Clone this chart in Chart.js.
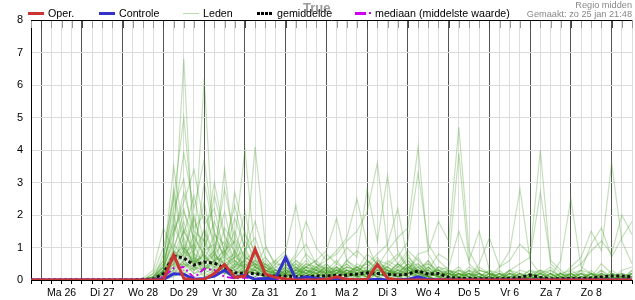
<!DOCTYPE html>
<html>
<head>
<meta charset="utf-8">
<script src="https://cdn.jsdelivr.net/npm/chart.js@4/dist/chart.umd.min.js"></script>
<style>
  html,body{margin:0;padding:0;background:#fff;}
  #wrap{position:relative;width:635px;height:300px;overflow:hidden;font-family:"Liberation Sans",Arial,sans-serif;}
  #c{position:absolute;left:0;top:0;}
  .lg{position:absolute;font-size:10.7px;line-height:13px;color:#000;white-space:nowrap;}
  .sw{position:absolute;}
  .hdr{position:absolute;right:3px;font-size:9.2px;line-height:10px;color:#888;white-space:nowrap;}
  #wm{position:absolute;left:303px;top:0px;font-size:13px;font-weight:bold;color:#9a9a9a;line-height:15px;}
</style>
</head>
<body>
<div id="wrap">
  <canvas id="c" width="635" height="300"></canvas>
  <div id="wm">True</div>
  <div class="sw" style="left:28px;top:12px;width:16px;height:3px;background:#cc3333"></div>
  <div class="lg" style="left:48px;top:7px">Oper.</div>
  <div class="sw" style="left:99px;top:12px;width:16px;height:3px;background:#3333cc"></div>
  <div class="lg" style="left:119px;top:7px">Controle</div>
  <div class="sw" style="left:183px;top:13px;width:16px;height:1px;background:#b8dca8"></div>
  <div class="lg" style="left:203px;top:7px">Leden</div>
  <div class="sw" style="left:257px;top:12px;width:15px;height:3px;background:repeating-linear-gradient(90deg,#000 0 3px,transparent 3px 4px)"></div>
  <div class="lg" style="left:277px;top:7px">gemiddelde</div>
  <div class="sw" style="left:355px;top:12px;width:11px;height:3px;background:#cc00ee"></div>
  <div class="sw" style="left:369px;top:12px;width:2px;height:2px;background:#cc00ee"></div>
  <div class="lg" style="left:375px;top:7px">mediaan (middelste waarde)</div>
  <div class="hdr" style="top:0px">Regio midden</div>
  <div class="hdr" style="top:9px">Gemaakt: zo 25 jan 21:48</div>
</div>
<script>
// Day labels shown at noon of each day (every 4th 6-hour slot)
const dayLabels = ['Ma 26','Di 27','Wo 28','Do 29','Vr 30','Za 31','Zo 1','Ma 2','Di 3','Wo 4','Do 5','Vr 6','Za 7','Zo 8'];

// Operational run (6-hourly precipitation, mm)
const oper = [0,0,0,0,0,0,0,0,0,0,0, 0,0,0,0.77,0.05,0, 0.02,0.2,0.48,0.08,0.12,0.95,0.18,0.08, 0.03,0,0,0,0.02,0.1,0.02,0, 0.02,0.48,0.05,0,0,0,0,0, 0,0,0,0,0,0,0,0, 0,0,0,0,0,0,0,0,0,0,0];
// Control run
const controle = [0,0,0,0,0,0,0,0,0,0,0, 0,0,0.02,0.19,0.18,0.02, 0.05,0.12,0.3,0.08,0.15,0.02,0.05,0.05, 0.7,0.02,0.1,0.05,0.02,0.03,0.02,0, 0,0.02,0,0,0.02,0.1,0.02,0, 0,0,0,0,0,0,0,0, 0,0,0,0,0,0,0,0,0,0,0];
// Ensemble mean
const gemiddelde = [0,0,0,0,0,0,0,0,0,0,0, 0.02,0.03,0.2,0.74,0.68,0.46, 0.55,0.52,0.37,0.22,0.2,0.2,0.15,0.12, 0.12,0.1,0.1,0.12,0.12,0.15,0.15,0.18, 0.22,0.2,0.18,0.15,0.18,0.28,0.18,0.2, 0.08,0.05,0.05,0.04,0.04,0.04,0.05,0.08, 0.15,0.08,0.04,0.04,0.05,0.05,0.06,0.1,0.12,0.12,0.1];
// Ensemble median
const mediaan = [0,0,0,0,0,0,0,0,0,0,0, 0,0.02,0.1,0.36,0.4,0.06, 0.35,0.3,0.1,0.05,0.08,0.05,0.05,0.03, 0.02,0.02,0.02,0.02,0.02,0.02,0.02,0.02, 0.02,0.02,0.02,0.02,0.02,0.03,0.02,0.02, 0.01,0.01,0.01,0.01,0.01,0.01,0.01,0.01, 0.01,0.01,0.01,0.01,0.01,0.01,0.01,0.01,0.01,0.01,0.01];
// Ensemble members
const leden = [
 [0,0,0,0,0,0,0,0,0,0,0, 0,0.1,0.4,1.2,6.8,0.6, 0.3,0.8,0.4,0.2,0.3,0.5,0.1,0.2, 0.1,0.3,0.2,0,0.1,0.4,0.2,0.1, 0.3,0.1,0,0.2,0.5,0.3,0.1,0, 0,0.2,0,0.1,0,0,0.3,0.1, 0,0,0.2,0,0,0.1,0,0,0.3,0.1,0],
 [0,0,0,0,0,0,0,0,0,0,0, 0,0,0.2,0.8,1.5,0.9, 6.2,0.7,0.5,0.3,0.2,0.6,0.4,0.1, 0.2,0.5,0.3,0.1,0,0.2,0.6,0.3, 0.1,0.4,0.2,0,0.3,0.2,0.6,0.1, 0,0,0.2,0.1,0,0.2,0,0, 0.1,0.3,0,0,0.2,0.1,0,0.2,0,0.3,0.4],
 [0,0,0,0,0,0,0,0,0,0,0, 0,0.1,0.6,2.8,1.2,0.4, 1.0,1.8,0.9,1.2,4.0,0.8,0.3,0.2, 0.5,0.2,0.1,0.3,0.2,0,0.1,0.4, 0.2,0.1,0.3,0.1,0,0.2,0.4,0.1, 0.2,0,0,0.1,0.3,0,0,0.1, 0,0.2,0,0.1,0,0,0.1,0.5,0.2,0,0.1],
 [0,0,0,0,0,0,0,0,0,0,0, 0,0,0.3,1.5,2.2,0.8, 0.6,0.9,2.1,0.7,0.5,4.1,1.1,0.4, 0.3,0.6,0.4,0.2,0.1,0.3,0.2,0, 0.1,0.5,0.2,0.3,0.1,0,0.2,0.1, 0,0.1,0.4,0.2,0,0,0.1,0, 0.2,0,0,0,0.1,0.3,0.2,0,0,0.1,0.2],
 [0,0,0,0,0,0,0,0,0,0,0, 0,0.2,1.0,2.5,5.0,1.6, 2.0,1.2,0.8,1.5,0.6,0.9,0.4,0.3, 0.2,0.1,0.4,0.6,0.3,0.1,0,0.2, 0.3,0.2,0.1,0.4,0.8,0.2,0.1,0, 0.1,0,0.2,0,0,0.1,0.3,0.2, 0,0,0.1,0.2,0,0,0.2,0.1,0,0,0.2],
 [0,0,0,0,0,0,0,0,0,0,0, 0,0,0.4,1.8,3.9,2.2, 3.7,1.4,1.1,0.5,1.2,0.7,0.2,0.5, 0.4,0.2,0.1,0,0.2,0.5,0.3,0.2, 0.6,0.3,0.2,0.1,0.2,0.5,0.2,0.3, 0.2,0.1,0,0,0.2,0.1,0,0, 0.1,0.2,0,0,0.3,0.1,0,0,0.1,0.2,0],
 [0,0,0,0,0,0,0,0,0,0,0, 0.05,0.3,1.6,0.9,2.1,1.3, 0.8,2.6,1.3,0.9,0.4,0.3,0.6,0.2, 0.1,0.3,0.8,0.5,0.2,0.1,0.3,0.1, 0,0.2,0.4,0.2,0.1,0.3,0.1,0, 0,0.2,0.1,0,0,0,0.2,0.1, 0.3,0.1,0,0,0,0.2,0.1,0,0.2,0.1,0],
 [0,0,0,0,0,0,0,0,0,0,0, 0,0,0.2,0.7,1.1,0.5, 1.3,0.6,0.9,0.4,0.8,0.3,0.2,0.6, 0.9,2.3,0.7,0.3,0.5,0.2,0.4,0.1, 0.2,0.6,0.3,0.1,0.2,0.1,0,0.1, 0.3,0.1,0,0.2,0,0,0,0.1, 0,0.1,0.3,0.1,0,0,0,0.2,0.1,0,0.3],
 [0,0,0,0,0,0,0,0,0,0,0, 0,0.1,0.3,0.9,0.6,1.4, 0.7,0.5,1.6,1.1,0.3,0.5,0.3,0.2, 0.4,0.8,1.8,1.0,0.6,0.9,1.3,2.5, 1.1,0.4,0.3,0.2,0.5,0.2,0.1,0, 0.1,0.3,0.1,0,0.2,0,0.1,0, 0,0,0.2,0.1,0,0.3,0,0,0.1,0,0.2],
 [0,0,0,0,0,0,0,0,0,0,0, 0,0,0.1,0.5,0.8,0.3, 0.9,1.1,0.4,0.2,0.7,0.5,0.2,0.1, 0.3,0.2,0.5,0.4,0.6,0.8,1.2,1.5, 2.1,3.6,1.0,0.5,0.3,0.7,0.2,0.1, 0,0.2,0,0.1,0.3,0,0,0, 0.2,0,0,0,0.1,0,0.2,0,0,0.1,0],
 [0,0,0,0,0,0,0,0,0,0,0, 0,0,0.2,0.4,1.6,0.7, 0.5,0.8,1.2,0.6,0.3,0.2,0.5,0.3, 0.2,0.4,0.1,0.3,0.8,0.5,1.0,0.7, 2.8,1.2,3.2,0.9,0.4,0.3,0.6,0.2, 0.1,0,0.3,0.1,0,0.2,0,0, 0,0.1,0,0.2,0,0,0.1,0.3,0,0,0.1],
 [0,0,0,0,0,0,0,0,0,0,0, 0,0,0.1,0.6,0.9,0.4, 0.3,0.6,0.7,1.2,0.5,0.3,0.1,0.2, 0.1,0.3,0.4,0.6,0.9,1.9,0.6,0.4, 0.5,0.8,1.1,2.2,0.6,0.3,0.2,0.1, 0.2,0.1,0,0,0.1,0,0.2,0, 0.1,0,0,0.1,0.2,0,0,0.1,0,0.2,0.1],
 [0,0,0,0,0,0,0,0,0,0,0, 0,0,0.3,0.8,1.0,0.6, 0.4,0.3,0.9,0.5,0.2,0.4,0.3,0.1, 0.2,0.1,0.3,0.2,0.4,0.3,0.5,0.2, 0.6,0.4,0.9,1.3,1.6,4.1,0.8,0.3, 0.2,0.4,0.1,0,0.1,0,0,0.2, 0,0.1,0,0,0,0.2,0.1,0,0,0,0.3],
 [0,0,0,0,0,0,0,0,0,0,0, 0,0.1,0.4,1.1,0.7,0.9, 1.5,0.7,0.6,0.8,0.3,0.2,0.4,0.2, 0.3,0.5,0.2,0.1,0.3,0.6,0.2,0.3, 0.8,0.5,0.4,0.7,1.2,3.3,1.1,0.6, 0.3,0.1,0,0.2,0,0.1,0,0, 0.1,0,0.2,0,0,0.1,0,0,0.2,0.1,0],
 [0,0,0,0,0,0,0,0,0,0,0, 0,0,0.2,0.5,1.3,0.6, 0.7,0.4,0.8,0.3,0.5,0.2,0.1,0.3, 0.1,0.2,0.4,0.1,0.2,0.3,0.1,0.5, 0.3,0.2,0.6,0.4,0.3,0.8,0.9,1.8, 1.2,4.7,0.9,0.3,0.2,0.1,0,0.2, 0,0.1,0,0.1,0,0,0.2,0,0,0.1,0],
 [0,0,0,0,0,0,0,0,0,0,0, 0,0,0.1,0.9,0.5,0.3, 0.6,0.2,0.4,0.7,0.9,0.4,0.2,0.1, 0.3,0.1,0.2,0.4,0.1,0.2,0.3,0.1, 0.4,0.7,0.2,0.5,0.9,0.6,0.3,0.8, 0.6,3.9,0.5,0.2,0.1,0,0.3,0, 0.1,0,0.1,0,0.2,0,0,0.1,0,0,0.2],
 [0,0,0,0,0,0,0,0,0,0,0, 0,0,0.2,0.3,0.8,1.1, 0.4,0.6,0.3,0.9,0.2,0.3,0.5,0.2, 0.1,0.4,0.2,0.5,0.3,0.1,0.2,0.4, 0.2,0.6,0.5,0.3,0.7,0.4,0.5,0.3, 0.4,1.5,0.6,1.5,0.3,0.2,0.1,0, 0.2,0.1,0,0,0.1,0,0.3,0,0.1,0,0],
 [0,0,0,0,0,0,0,0,0,0,0, 0,0,0.1,0.6,0.4,0.8, 0.3,0.5,0.2,0.4,0.6,0.2,0.1,0.3, 0.2,0.1,0.3,0.2,0.4,0.1,0.3,0.2, 0.1,0.3,0.2,0.5,0.2,0.3,0.1,0.4, 0.2,0.3,0.1,0.5,1.3,0.4,0.9,2.8, 0.6,0.2,0.1,0,0,0.1,0,0.2,0,0,0.1],
 [0,0,0,0,0,0,0,0,0,0,0, 0,0,0.2,0.4,0.9,0.5, 0.8,0.4,0.3,0.2,0.4,0.6,0.2,0.1, 0.2,0.3,0.1,0.4,0.2,0.3,0.1,0.2, 0.3,0.1,0.2,0.4,0.6,0.2,0.3,0.1, 0.2,0.1,0.3,0.2,0.1,0.4,0.6,1.1, 0.8,4.0,0.5,0.2,0.1,0,0.2,0,0.1,0,0],
 [0,0,0,0,0,0,0,0,0,0,0, 0,0,0.3,0.7,0.4,0.6, 0.5,0.9,0.2,0.3,0.6,0.4,0.2,0.1, 0.4,0.2,0.3,0.1,0.5,0.2,0.4,0.3, 0.2,0.4,0.3,0.1,0.4,0.5,0.2,0.3, 0.1,0.2,0,0.3,0.2,0.1,0.3,0.5, 0.7,2.7,0.6,0.3,0.1,0.2,0,0.1,0,0.1,0],
 [0,0,0,0,0,0,0,0,0,0,0, 0,0,0.1,0.3,0.6,0.2, 0.4,0.3,0.5,0.2,0.3,0.1,0.3,0.2, 0.1,0.2,0.4,0.3,0.1,0.2,0.3,0.1, 0.2,0.3,0.1,0.2,0.3,0.1,0.4,0.2, 0.3,0.1,0.2,0,0.1,0.2,0,0.1, 0.2,0.3,0.1,0.6,2.5,0.4,0.2,0.1,0,0.2,0.1],
 [0,0,0,0,0,0,0,0,0,0,0, 0,0,0.2,0.5,0.3,0.7, 0.2,0.4,0.6,0.3,0.1,0.4,0.2,0.3, 0.2,0.1,0.2,0.3,0.2,0.1,0.2,0.4, 0.1,0.2,0.3,0.2,0.4,0.1,0.2,0.3, 0.1,0.2,0.1,0.2,0,0.1,0.2,0, 0.1,0.2,0.3,0.1,0.4,0.7,1.5,0.9,3.6,1.2,0.5],
 [0,0,0,0,0,0,0,0,0,0,0, 0,0,0.1,0.2,0.5,0.4, 0.3,0.2,0.4,0.6,0.2,0.3,0.1,0.1, 0.3,0.2,0.1,0.2,0.3,0.4,0.1,0.2, 0.3,0.2,0.1,0.3,0.2,0.4,0.1,0.2, 0.2,0.1,0.3,0,0.1,0.2,0.1,0.3, 0.2,0.1,0,0.2,0.3,0.5,0.9,1.2,0.8,2.0,1.4],
 [0,0,0,0,0,0,0,0,0,0,0, 0,0,0.3,0.6,1.0,0.5, 0.8,0.3,0.2,0.5,0.4,0.2,0.3,0.1, 0.2,0.3,0.2,0.1,0.2,0.1,0.3,0.2, 0.1,0.2,0.4,0.1,0.3,0.2,0.1,0.4, 0.3,0.2,0.1,0.3,0.2,0,0.2,0.1, 0.3,0.2,0.4,0.1,0.2,0.3,1.1,1.6,0.7,1.3,1.8],
 [0,0,0,0,0,0,0,0,0,0,0, 0,0.1,0.5,3.5,1.4,2.6, 1.1,3.0,1.4,0.6,0.4,0.8,0.3,0.2, 0.2,0.4,0.1,0.2,0.3,0.1,0.2,0.1, 0.2,0.4,0.1,0,0.2,0.3,0.1,0, 0.1,0,0.2,0.1,0,0,0.1,0, 0,0.1,0,0,0.2,0,0,0.1,0,0,0.1],
 [0,0,0,0,0,0,0,0,0,0,0, 0,0,0.8,2.2,3.1,1.0, 2.4,0.9,2.8,1.3,0.7,0.5,0.4,0.6, 0.3,0.2,0.5,0.3,0.1,0.2,0.4,0.3, 0.5,0.2,0.1,0.3,0.4,0.2,0.1,0.2, 0,0.1,0.2,0,0.1,0,0.2,0.1, 0.1,0,0,0.2,0.1,0,0,0,0.2,0.1,0],
 [0,0,0,0,0,0,0,0,0,0,0, 0,0.2,0.6,1.5,2.4,3.4, 1.7,2.2,0.8,1.9,1.0,0.4,0.7,0.3, 0.5,0.3,0.2,0.4,0.2,0.3,0.1,0.2, 0.3,0.1,0.2,0.5,0.3,0.1,0.4,0.1, 0.2,0.1,0,0.1,0,0.2,0,0.1, 0,0.2,0.1,0,0,0.1,0.2,0,0,0.1,0.2],
 [0,0,0,0,0,0,0,0,0,0,0, 0,0,0.2,1.0,1.8,0.7, 3.0,1.5,0.6,2.7,1.4,0.9,0.3,0.4, 0.6,0.4,0.2,0.1,0.3,0.2,0.5,0.2, 0.1,0.3,0.4,0.2,0.1,0.2,0.3,0.1, 0,0.2,0.1,0,0.2,0.1,0,0, 0.1,0,0.2,0,0,0.1,0,0.2,0,0,0],
 [0,0,0,0,0,0,0,0,0,0,0, 0,0.1,0.4,2.0,0.8,1.9, 0.9,0.6,3.4,0.8,2.1,0.6,0.5,0.2, 0.3,0.1,0.4,0.3,0.2,0.4,0.2,0.1, 0.2,0.1,0.3,0.2,0.5,0.1,0.2,0.3, 0.1,0,0.1,0.2,0,0,0.1,0, 0.2,0.1,0,0,0.1,0,0.1,0,0.2,0,0.1],
 [0,0,0,0,0,0,0,0,0,0,0, 0,0,0.3,1.3,2.7,1.5, 1.2,0.5,1.0,2.3,0.9,1.8,0.7,0.3, 0.2,0.6,0.3,0.2,0.4,0.1,0.2,0.3, 0.4,0.2,0.1,0.3,0.2,0.4,0.2,0.1, 0.2,0.1,0,0,0.1,0.3,0,0.1, 0,0,0.1,0.2,0,0,0.2,0.1,0,0.1,0],
 [0,0,0,0,0,0,0,0,0,0,0, 0,0.1,0.2,2.6,1.0,0.5, 1.6,0.8,0.5,0.7,1.5,0.4,1.0,0.5, 0.8,0.3,0.6,0.2,0.1,0.3,0.2,0.4, 0.2,0.5,0.3,0.1,0.3,0.2,0.5,0.2, 0.1,0.3,0.2,0.1,0,0.1,0,0, 0.1,0.2,0,0.1,0,0.2,0,0,0.1,0,0.2],
 [0,0,0,0,0,0,0,0,0,0,0, 0,0,0.5,1.7,0.9,2.0, 0.6,1.4,0.7,0.4,0.9,1.3,0.4,0.2, 0.4,0.7,1.1,0.5,0.3,0.2,0.6,0.9, 0.6,0.3,0.5,0.8,0.4,0.2,0.3,0.1, 0.3,0.2,0.1,0.4,0.2,0,0.1,0.2, 0.1,0.3,0.2,0,0.1,0.2,0,0.3,0.1,0,0.2],
 [0,0,0,0,0,0,0,0,0,0,0, 0,0,0.1,0.4,0.5,0.2, 0.3,0.6,0.2,0.1,0.3,0.2,0.1,0.1, 0.1,0.2,0.1,0,0.1,0.2,0.1,0.3, 0.2,0.1,0,0.1,0.2,0.1,0.2,0.1, 0,0.1,0,0.1,0,0,0.1,0, 0.1,0,0,0.1,0,0,0.1,0,0,0.1,0],
 [0,0,0,0,0,0,0,0,0,0,0, 0,0,0,0.3,0.2,0.4, 0.1,0.3,0.4,0.2,0.1,0.1,0.2,0, 0.1,0,0.2,0.1,0,0.1,0.2,0.1, 0,0.2,0.1,0,0.1,0.3,0,0.1, 0.1,0,0.1,0,0.1,0,0,0.2, 0,0.1,0,0,0.2,0,0,0.1,0,0,0.1],
 [0,0,0,0,0,0,0,0,0,0,0, 0,0,0.2,0.2,0.6,0.3, 0.5,0.2,0.3,0.4,0.2,0.3,0.1,0.2, 0.2,0.1,0.3,0.2,0.1,0.4,0.1,0.2, 0.1,0.3,0.2,0.1,0.4,0.2,0.1,0.2, 0.2,0.1,0,0.1,0.2,0.1,0,0.1, 0,0.1,0.2,0,0.1,0,0.1,0.2,0,0.1,0.1],
 [0,0,0,0,0,0,0,0,0,0,0, 0,0,0,0.1,0.3,0.1, 0.2,0.1,0.3,0.1,0.2,0,0.1,0.1, 0,0.1,0.1,0.2,0,0.1,0,0.1, 0.1,0,0.2,0.1,0,0.1,0.1,0, 0,0.1,0,0,0.1,0,0,0, 0.1,0,0,0.1,0,0,0,0.1,0,0,0]
];

// 6-hour slots from zo 25 jan 18:00 to ma 9 feb 12:00
const slots = [];
for (let i = 0; i < oper.length; i++) slots.push(i);

const FONT = '"Liberation Sans", Arial, sans-serif';

const datasets = [
  {label:'Oper.', data:oper, borderColor:'#cc3333', borderWidth:3, pointRadius:0, tension:0},
  {label:'Controle', data:controle, borderColor:'#3333cc', borderWidth:3, pointRadius:0, tension:0},
  {label:'gemiddelde', data:gemiddelde, borderColor:'#111', borderWidth:3, borderDash:[3,2.5], pointRadius:0, tension:0},
  {label:'mediaan (middelste waarde)', data:mediaan, borderColor:'#cc00ee', borderWidth:2, borderDash:[7,3,2,3], pointRadius:0, tension:0}
];
leden.forEach((m, k) => datasets.push({label:'Leden', data:m, borderColor:'rgba(70,160,40,0.32)', borderWidth:1.2, pointRadius:0, tension:0}));

const topTicks = {
  id:'topTicks',
  afterDatasetsDraw(chart){
    const {ctx, chartArea, scales} = chart;
    const xs = scales.x;
    ctx.save();
    ctx.lineWidth = 1;
    for (let i = 0; i < slots.length; i++) {
      const x = Math.round(xs.getPixelForValue(i)) + 0.5;
      ctx.strokeStyle = ((i - 1) % 4 === 0) ? '#444' : '#999';
      ctx.beginPath();
      ctx.moveTo(x, chartArea.top);
      ctx.lineTo(x, chartArea.top + 8);
      ctx.stroke();
    }
    ctx.strokeStyle = '#000';
    ctx.beginPath();
    ctx.moveTo(chartArea.left, chartArea.top + 0.5);
    ctx.lineTo(chartArea.right, chartArea.top + 0.5);
    ctx.stroke();
    ctx.restore();
  }
};

new Chart(document.getElementById('c'), {
  type:'line',
  data:{labels:slots, datasets},
  plugins:[topTicks],
  options:{
    responsive:false,
    animation:false,
    devicePixelRatio:1,
    layout:{padding:{top:20, left:0, right:0, bottom:0}},
    plugins:{legend:{display:false}, tooltip:{enabled:false}},
    scales:{
      x:{
        type:'category',
        offset:false,
        grid:{
          color:(c) => ((c.index - 1) % 4 === 0) ? '#555' : '#dcdcdc',
          lineWidth:1,
          drawTicks:true,
          tickLength:4,
          tickColor:'#000'
        },
        border:{color:'#000', width:1},
        ticks:{
          autoSkip:false, maxRotation:0, minRotation:0,
          color:'#000', padding:3,
          font:{family:FONT, size:10.5},
          callback:(v, i) => ((i - 3) % 4 === 0 && (i - 3) / 4 < dayLabels.length) ? dayLabels[(i - 3) / 4] : ''
        },
        afterFit:(s) => { s.height = 20; }
      },
      y:{
        min:0, max:8,
        grid:{color:'#dcdcdc', lineWidth:1, drawTicks:false},
        border:{color:'#000', width:1},
        ticks:{stepSize:1, color:'#000', padding:8, font:{family:FONT, size:11}},
        afterFit:(s) => { s.width = 31; }
      }
    }
  }
});
</script>
</body>
</html>
